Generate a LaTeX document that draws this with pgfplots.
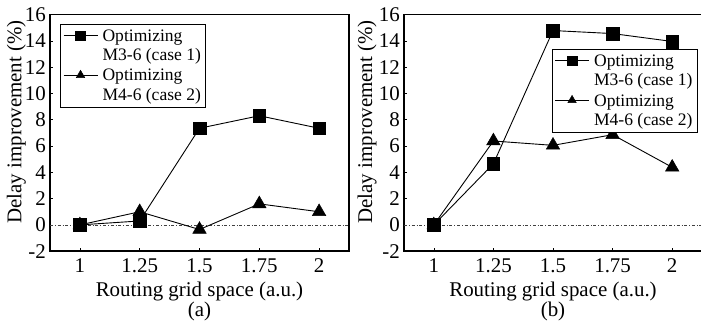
\documentclass[border=0pt]{standalone}
\usepackage{fontspec}
\setmainfont{Liberation Serif}
\usepackage{pgfplots}
\pgfplotsset{compat=1.18}
\newcommand{\ticksize}{\fontsize{21}{22}\selectfont}
\newcommand{\labsize}{\fontsize{21}{22}\selectfont}
\newcommand{\legsize}{\fontsize{17.6}{19.5}\selectfont}
\newcommand{\legtext}[2]{\vbox{\hbox{#1}\hbox{#2}}}
\pgfplotsset{
  myaxis/.style={
    scale only axis,
    height=236.7bp,
    xmin=0.875, xmax=2.125,
    ymin=-2, ymax=16,
    xtick={1,1.25,1.5,1.75,2},
    xticklabels={1,1.25,1.5,1.75,2},
    ytick={-2,0,2,4,6,8,10,12,14,16},
    yticklabels={-2,0,2,4,6,8,10,12,14,16},
    tick align=inside,
    xtick pos=bottom, ytick pos=left,
    major tick length=3bp,
    tick style={line width=0.6bp, black},
    axis line style={line width=1.6bp},
    tick label style={font=\ticksize},
    xticklabel style={anchor=base, inner sep=0pt, yshift=-21bp},
    yticklabel style={anchor=east, inner sep=0pt, xshift=-4bp},
    xlabel={Routing grid space (a.u.)},
    ylabel={Delay improvement (\%)},
    xlabel style={font=\labsize, at={(axis description cs:0.5,0)}, anchor=base, inner sep=0pt, yshift=-45.5bp},
    ylabel style={font=\labsize, at={(axis description cs:0,0.5)}, rotate=0, anchor=center, inner sep=0pt},
    legend cell align=left,
    legend style={draw=black, line width=0.8bp, font=\legsize,
      inner xsep=2.7bp, inner ysep=3.5bp, row sep=3bp, column sep=2.6bp,
      cells={anchor=base west, inner sep=0pt}},
    legend image code/.code={
      \draw[#1, line width=0.9bp, yshift=25.3bp] (0bp,0bp) -- (34bp,0bp);
      \draw[#1, yshift=25.3bp, mark size=4.8bp] plot coordinates {(17bp,0bp)};
    },
  },
  s1/.style={black, line width=0.9bp, mark=square*, mark size=6.3bp, mark options={solid, fill=black, line width=0.5bp}},
  s2/.style={black, line width=0.9bp, mark=triangle*, mark size=7.8bp, mark options={solid, fill=black, line width=0.5bp}},
}
\begin{document}
\begin{tikzpicture}
\begin{axis}[myaxis, width=299bp, at={(50bp,-14.5bp)}, anchor=north west,
  ylabel style={xshift=11bp, yshift=33.5bp},
  legend style={at={(axis description cs:0.0334,0.960)}, anchor=north west}]
\addplot[forget plot, black!75, line width=0.6bp, dash dot] coordinates {(0.875,0) (2.125,0)};
\addplot[s1] coordinates {(1,0) (1.25,0.3) (1.5,7.35) (1.75,8.3) (2,7.35)};
\addlegendentry{\legtext{Optimizing}{M3-6 (case 1)}}
\addplot[s2] coordinates {(1,0) (1.25,1.0) (1.5,-0.35) (1.75,1.6) (2,1.0)};
\addlegendentry{\legtext{Optimizing}{M4-6 (case 2)}}
\end{axis}
\begin{axis}[myaxis, width=298bp, at={(404bp,-14.5bp)}, anchor=north west,
  ylabel style={xshift=11bp, yshift=37bp},
  legend style={at={(axis description cs:0.495,0.854)}, anchor=north west}]
\addplot[forget plot, black!75, line width=0.6bp, dash dot] coordinates {(0.875,0) (2.125,0)};
\addplot[s1] coordinates {(1,0) (1.25,4.65) (1.5,14.78) (1.75,14.55) (2,13.95)};
\addlegendentry{\legtext{Optimizing}{M3-6 (case 1)}}
\addplot[s2] coordinates {(1,0) (1.25,6.38) (1.5,6.05) (1.75,6.86) (2,4.38)};
\addlegendentry{\legtext{Optimizing}{M4-6 (case 2)}}
\end{axis}
\node[font=\labsize, anchor=base, inner sep=0pt] at (199.5bp,-316bp) {(a)};
\node[font=\labsize, anchor=base, inner sep=0pt] at (553bp,-316bp) {(b)};
\pgfresetboundingbox
\useasboundingbox (0,0) rectangle (701bp,-323bp);
\end{tikzpicture}
\end{document}
